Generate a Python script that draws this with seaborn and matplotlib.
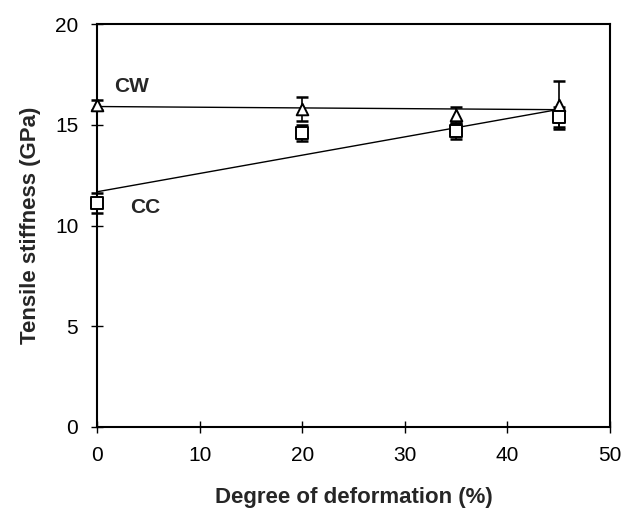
import numpy as np
import pandas as pd
import matplotlib
matplotlib.use("Agg")
import matplotlib.pyplot as plt
import seaborn as sns

# Tensile stiffness vs. degree of deformation for two processing routes
deformation = [0, 20, 35, 45]
cw_stiffness = [16.0, 15.8, 15.5, 16.0]
cw_error = [0.25, 0.6, 0.4, 1.2]
cc_stiffness = [11.1, 14.6, 14.7, 15.4]
cc_error = [0.5, 0.4, 0.4, 0.5]

x_ticks = [0, 10, 20, 30, 40, 50]
y_ticks = [0, 5, 10, 15, 20]

df = pd.DataFrame({
    "deformation": deformation * 2,
    "stiffness": cw_stiffness + cc_stiffness,
    "err": cw_error + cc_error,
    "series": ["CW"] * 4 + ["CC"] * 4,
})

sns.set_theme(style="white")
plt.rcParams["font.family"] = ["Liberation Sans", "DejaVu Sans"]

fig = plt.figure(figsize=(6.3, 5.15), dpi=100)
ax = fig.add_axes([0.154, 0.171, 0.814, 0.782])

markers = {"CW": "^", "CC": "s"}
for name in ["CW", "CC"]:
    sub = df[df["series"] == name]
    # least-squares trend line
    sns.regplot(data=sub, x="deformation", y="stiffness", ax=ax, ci=None,
                scatter=False, truncate=True,
                line_kws={"color": "black", "lw": 1.0})
    eb = ax.errorbar(sub["deformation"], sub["stiffness"], yerr=sub["err"],
                     fmt="none", ecolor="black", elinewidth=1.2, capsize=4.5,
                     capthick=1.8, zorder=3)
    for art in eb.get_children():
        art.set_clip_on(False)
    sns.scatterplot(data=sub, x="deformation", y="stiffness", ax=ax,
                    marker=markers[name], s=70, facecolor="white",
                    edgecolor="black", linewidth=1.4, zorder=4,
                    legend=False)
for coll in ax.collections:
    coll.set_clip_on(False)

ax.text(1.7, 16.9, "CW", fontsize=15, fontweight="bold", ha="left", va="center")
ax.text(3.2, 10.9, "CC", fontsize=15, fontweight="bold", ha="left", va="center")

ax.set_xlim(0, 50)
ax.set_ylim(0, 20)
ax.set_xticks(x_ticks)
ax.set_yticks(y_ticks)
ax.tick_params(axis="both", direction="inout", length=9, width=1,
               labelsize=15, colors="black", pad=9,
               bottom=True, left=True)
for s in ax.spines.values():
    s.set_visible(True)
    s.set_color("black")
    s.set_linewidth(1.5)

ax.set_xlabel("Degree of deformation (%)", fontsize=16, fontweight="bold",
              labelpad=16)
ax.set_ylabel("Tensile stiffness (GPa)", fontsize=16, fontweight="bold",
              labelpad=10)

fig.savefig("out.png", dpi=100)
